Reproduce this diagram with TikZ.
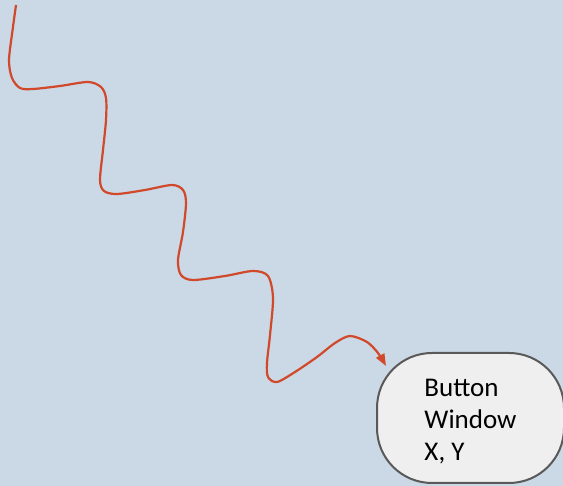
\documentclass[tikz,border=0pt]{standalone}
\usepackage{fontspec}
\setmainfont{Carlito}
\usetikzlibrary{arrows.meta}
\definecolor{bgblue}{RGB}{203,217,230}
\definecolor{wavered}{RGB}{209,72,42}
\definecolor{boxfill}{RGB}{239,239,239}
\definecolor{boxline}{RGB}{89,89,89}
\tikzset{
  winbox/.style={draw=boxline, fill=boxfill, line width=2pt, rounded corners=55pt,
    minimum width=187pt, minimum height=130pt, align=left,
    font=\fontsize{27}{32}\selectfont},
  wave/.style={draw=wavered, line width=2.2pt, -{Triangle[length=12pt,width=9pt]}}
}
\begin{document}
\begin{tikzpicture}[x=1pt,y=-1pt]
  % Background
  \fill[bgblue] (0,0) rectangle (563,486);
  \useasboundingbox (0,0) rectangle (563,486);
  % Target box
  \node[winbox] (win) at (470.5,418) {\rule{0pt}{25pt}Button\\Window\\X, Y};
  % Ends of the wave
  \coordinate (src) at (16,5);
  \coordinate (tip) at (386,366);
  % Wavy connector, stepping down to the box
  \draw[wave] plot[smooth] coordinates {(src) (13,27) (9,60) (12,78) (20,88) (33,89)
    (60,86) (88,82) (101,87) (106,98) (106,120) (103,150) (100,180) (104,191)
    (117,194) (145,190) (172,185) (183,190) (186,203) (183,232) (178,260)
    (181,275) (193,280) (225,276) (253,271) (268,276) (273,298) (270,335)
    (267,363) (268,377) (277,382) (295,372) (317,357) (335,343) (350,336)
    (367,342) (378,353) (tip)};
\end{tikzpicture}
\end{document}
